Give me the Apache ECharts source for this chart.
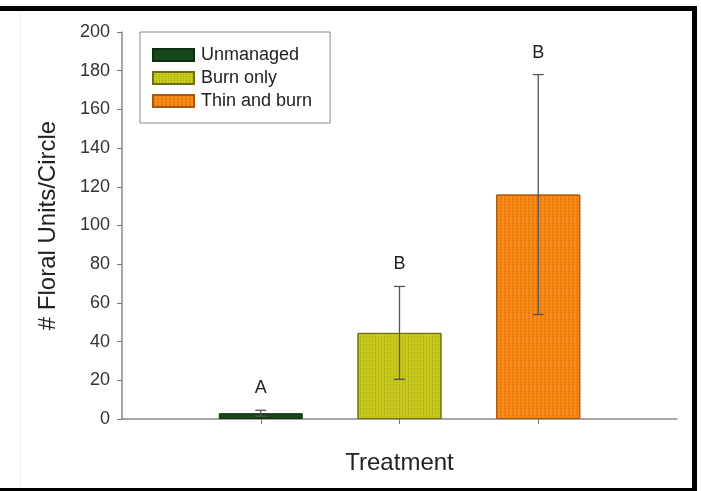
<!DOCTYPE html>
<html>
<head>
<meta charset="utf-8">
<script src="https://cdn.jsdelivr.net/npm/echarts@6/dist/echarts.min.js"></script>
<style>
  html, body { margin: 0; padding: 0; background: #fff; }
  #chart { width: 701px; height: 491px; }
</style>
</head>
<body>
<div id="chart"></div>
<script>
// Treatments, mean floral units per circle, and their error half-widths
const categories = ['Unmanaged', 'Burn only', 'Thin and burn'];
const means = [3, 44.5, 116];
const errors = [1.5, 24, 62];
const letters = ['A', 'B', 'B'];
const yTicks = { min: 0, max: 200, interval: 20 };

const colors = ['#17471a', '#c8c91c', '#fb8a17'];
const borders = ['#0e2e10', '#6e6e12', '#a65a10'];
const decals = [
  null,
  { symbol: 'rect', symbolSize: 1, dashArrayX: [1, 2], dashArrayY: [1, 1], color: 'rgba(90,90,0,0.28)' },
  { symbol: 'circle', symbolSize: 1, dashArrayX: [2, 2], dashArrayY: [2, 1], color: 'rgba(150,70,0,0.30)' }
];

// Axis slots: empty padding slot on each side of the three treatments
const slots = [''].concat(categories, ['']);

const font = 'Liberation Sans, Arial, sans-serif';

const barSeries = categories.map((name, i) => {
  const data = slots.map(() => '-');
  data[i + 1] = means[i];
  return {
    name: name,
    type: 'bar',
    data: data,
    barWidth: 84,
    barGap: '-100%',
    itemStyle: {
      color: colors[i],
      borderColor: borders[i],
      borderWidth: 1,
      decal: decals[i] || undefined
    },
    emphasis: { disabled: true }
  };
});

const errorData = categories.map((c, i) => [i + 1, means[i] - errors[i], means[i] + errors[i], letters[i]]);

const errorSeries = {
  type: 'custom',
  silent: true,
  z: 10,
  data: errorData,
  renderItem: function (params, api) {
    const x = api.value(0);
    const lo = api.coord([x, api.value(1)]);
    const hi = api.coord([x, api.value(2)]);
    const half = 5.5;
    const style = { stroke: '#555', lineWidth: 1.3 };
    return {
      type: 'group',
      children: [
        { type: 'line', shape: { x1: lo[0], y1: lo[1], x2: hi[0], y2: hi[1] }, style: style },
        { type: 'line', shape: { x1: hi[0] - half, y1: hi[1], x2: hi[0] + half, y2: hi[1] }, style: style },
        { type: 'line', shape: { x1: lo[0] - half, y1: lo[1], x2: lo[0] + half, y2: lo[1] }, style: style },
        {
          type: 'text',
          x: hi[0], y: hi[1] - 22,
          style: {
            text: letters[params.dataIndex],
            fill: '#222', font: '18px ' + font,
            align: 'center', verticalAlign: 'middle'
          }
        }
      ]
    };
  }
};

const chart = echarts.init(document.getElementById('chart'), null, { renderer: 'canvas' });

chart.setOption({
  backgroundColor: '#fff',
  animation: false,
  textStyle: { fontFamily: font },
  grid: { left: 122, right: 24, top: 32, bottom: 72 },
  legend: {
    data: categories,
    orient: 'vertical',
    left: 140,
    top: 32,
    icon: 'rect',
    itemWidth: 41,
    itemHeight: 12,
    itemGap: 5,
    padding: [14, 18, 13, 12],
    borderColor: '#888',
    borderWidth: 1,
    selectedMode: false,
    textStyle: { fontSize: 18, color: '#222', fontFamily: font, padding: [0, 0, 0, 2] }
  },
  xAxis: {
    type: 'category',
    data: slots,
    boundaryGap: false,
    name: 'Treatment',
    nameLocation: 'middle',
    nameGap: 32,
    nameTextStyle: { fontSize: 24, color: '#222', fontFamily: font },
    axisLine: { lineStyle: { color: '#888', width: 1.5 } },
    axisTick: {
      length: 5,
      lineStyle: { color: '#777' },
      interval: function (i) { return i >= 1 && i <= categories.length; }
    },
    axisLabel: { show: false },
    splitLine: { show: false }
  },
  yAxis: {
    type: 'value',
    min: yTicks.min,
    max: yTicks.max,
    interval: yTicks.interval,
    name: '# Floral Units/Circle',
    nameLocation: 'middle',
    nameGap: 62,
    nameTextStyle: { fontSize: 24, color: '#222', fontFamily: font },
    axisLine: { show: true, lineStyle: { color: '#888', width: 1.5 } },
    axisTick: { show: true, length: 5, lineStyle: { color: '#777' } },
    axisLabel: { fontSize: 18, color: '#333', margin: 12, fontFamily: font },
    splitLine: { show: false }
  },
  graphic: [
    // outer frame
    { type: 'rect', shape: { x: 0, y: 6, width: 697, height: 5 }, style: { fill: '#000' }, silent: true },
    { type: 'rect', shape: { x: 692, y: 6, width: 5, height: 485 }, style: { fill: '#000' }, silent: true },
    { type: 'rect', shape: { x: 0, y: 488, width: 697, height: 3 }, style: { fill: '#000' }, silent: true },
    { type: 'rect', shape: { x: 20, y: 11, width: 1, height: 477 }, style: { fill: '#f0f0f0' }, silent: true }
  ],
  series: barSeries.concat([errorSeries])
});
</script>
</body>
</html>
